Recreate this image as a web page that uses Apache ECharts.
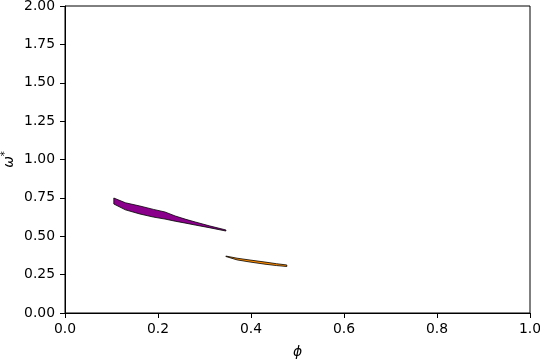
<!DOCTYPE html>
<html>
<head>
<meta charset="utf-8">
<script src="https://cdn.jsdelivr.net/npm/echarts@6/dist/echarts.min.js"></script>
<style>html,body{margin:0;padding:0;background:#fff;}#chart{width:540px;height:360px;}</style>
</head>
<body>
<div id="chart"></div>
<script>
// Purple band
var purplePhi   = [0.105, 0.130, 0.161, 0.190, 0.215, 0.237, 0.260, 0.280, 0.310, 0.346];
var purpleUpper = [0.749, 0.718, 0.697, 0.675, 0.658, 0.632, 0.610, 0.593, 0.568, 0.541];
var purpleLower = [0.710, 0.672, 0.645, 0.625, 0.612, 0.598, 0.585, 0.573, 0.556, 0.534];
// Orange band
var orangePhi   = [0.346, 0.370, 0.398, 0.430, 0.455, 0.477];
var orangeUpper = [0.371, 0.357, 0.345, 0.332, 0.321, 0.313];
var orangeLower = [0.368, 0.346, 0.332, 0.318, 0.309, 0.303];

var xTicks = [0, 0.2, 0.4, 0.6, 0.8, 1.0];
var yTicks = [0, 0.25, 0.5, 0.75, 1.0, 1.25, 1.5, 1.75, 2.0];

function bandSeries(name, phi, upper, lower, color) {
  return {
    type: 'custom',
    name: name,
    data: [0],
    renderItem: function (params, api) {
      var pts = [];
      for (var i = 0; i < phi.length; i++) pts.push(api.coord([phi[i], upper[i]]));
      for (var j = phi.length - 1; j >= 0; j--) pts.push(api.coord([phi[j], lower[j]]));
      return {
        type: 'polygon',
        shape: { points: pts },
        style: { fill: color, stroke: '#000', lineWidth: 0.8 }
      };
    },
    silent: true
  };
}

var font = 'DejaVu Sans';
var chart = echarts.init(document.getElementById('chart'), null, { renderer: 'canvas' });
chart.setOption({
  animation: false,
  backgroundColor: '#fff',
  grid: { left: 65, right: 10, top: 6, bottom: 47, containLabel: false, outerBoundsMode: 'none',
          show: true, borderColor: '#000', borderWidth: 1, backgroundColor: 'transparent' },
  xAxis: {
    type: 'value', min: 0, max: 1, interval: 0.2,
    splitLine: { show: false },
    axisLine: { show: true, lineStyle: { color: '#000', width: 1 } },
    axisTick: { show: true, inside: false, length: 5, lineStyle: { color: '#000' } },
    axisLabel: { color: '#000', fontFamily: font, fontSize: 13.9, margin: 9, formatter: function (v) { return v.toFixed(1); } },
    name: 'ϕ', nameLocation: 'middle', nameGap: 32, nameMoveOverlap: false,
    nameTextStyle: { color: '#000', fontFamily: font, fontSize: 13.9, fontStyle: 'italic' }
  },
  yAxis: {
    type: 'value', min: 0, max: 2, interval: 0.25,
    splitLine: { show: false },
    axisLine: { show: true, lineStyle: { color: '#000', width: 1 } },
    axisTick: { show: true, inside: false, length: 5, lineStyle: { color: '#000' } },
    axisLabel: { color: '#000', fontFamily: font, fontSize: 13.9, margin: 10, formatter: function (v) { return v.toFixed(2); } },
    name: '{w|ω}{s|*}', nameLocation: 'middle', nameGap: 47, nameRotate: 90, nameMoveOverlap: false,
    nameTextStyle: {
      color: '#000', fontFamily: font, fontSize: 13.9,
      rich: {
        w: { fontFamily: font, fontSize: 13.9, fontStyle: 'italic', color: '#000' },
        s: { fontFamily: font, fontSize: 10, color: '#000', verticalAlign: 'top', padding: [0, 0, 8, 0] }
      }
    }
  },
  series: [
    bandSeries('purple', purplePhi, purpleUpper, purpleLower, '#8b008b'),
    bandSeries('orange', orangePhi, orangeUpper, orangeLower, '#ff8c00')
  ]
});
</script>
</body>
</html>
